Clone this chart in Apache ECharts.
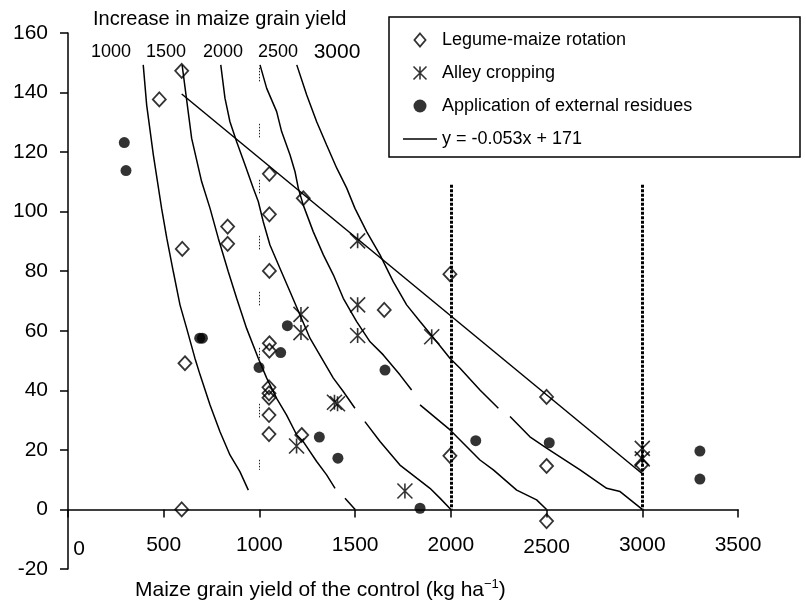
<!DOCTYPE html>
<html>
<head>
<meta charset="utf-8">
<script src="https://cdn.jsdelivr.net/npm/echarts@6/dist/echarts.min.js"></script>
<style>
html,body{margin:0;padding:0;background:#fff;}
#chart{width:806px;height:604px;}
</style>
</head>
<body>
<div id="chart"></div>
<script>
// ---- data ----
const legumeMaize = [
  [594,147.3],[477,137.7],[1052,112.7],[1229,104.5],[1052,99.1],[834,95],[834,89.2],[597,87.5],
  [1052,80.1],[1652,67],[1052,55.8],[1052,53.3],[611,49.1],[1050,41],[1050,39],[1050,37.5],
  [1050,31.7],[1050,25.3],[1221,25],[594,0],[1995,79],[1995,18],[2500,37.8],[2500,14.6],
  [2500,-3.9],[2997,15]
];
const alleyCropping = [
  [1513,90.2],[1513,68.7],[1513,58.4],[1217,65.5],[1217,59.4],[1900,58],[1392,36],[1408,35.5],
  [1194,21.3],[1760,6.2],[3000,20.5],[3000,17]
];
const externalResidues = [
  [294,123.2],[303,113.8],[688,57.5],[702,57.5],[1146,61.7],[1111,52.7],[998,47.7],[1656,46.8],
  [1313,24.3],[1410,17.2],[1839,0.4],[2130,23.1],[2514,22.4],[3301,19.6],[3301,10.2]
];
// iso-lines of increase in maize grain yield ('-' = gap in the drawn curve)
const iso1000 = [[393,149.3],[411,135.8],[446,119],[489,101.1],[516,91.1],[550,79.9],[585,68.7],[620,60.8],
  [663,50.8],[690,45.2],[742,35.1],[794,26.1],[846,18.3],[898,12.7],[942,6.5]];
const iso1500 = [[596,149.3],[646,124.6],[698,110.1],[742,101.1],[785,91.1],[837,79.9],[881,70.9],[933,60.8],
  [994,50.8],[1038,44.1],[1090,37.3],[1142,31.7],[1195,25],[1229,22.8],[1299,16.1],[1351,11.6],[1395,7.1],
  [1420,'-'],[1447,3.8],[1500,0]];
const iso2000 = [[798,149.3],[820,138.1],[846,130.2],[881,123.5],[925,115.7],[968,107.9],[994,103.4],[1020,96.6],
  [1055,88.8],[1107,81],[1160,73.1],[1212,65.3],[1264,57.5],[1325,50.8],[1386,44.1],[1438,39.6],[1499,34],
  [1525,'-'],[1551,29.5],[1630,22.8],[1734,14.9],[1822,10.5],[1891,7.1],[1943,3.8],[2000,0]];
const iso2500 = [[1003,149.3],[1038,141.4],[1090,133.6],[1116,126.9],[1160,119],[1186,113.4],[1203,107.9],[1229,102.2],
  [1281,93.3],[1334,85.5],[1386,78.8],[1438,70.9],[1508,63.1],[1578,56.3],[1647,51.9],[1734,45.2],[1795,40.1],
  [1815,'-'],[1839,35.1],[1996,26.7],[2152,16.6],[2222,13.3],[2344,6.5],[2448,3.2],[2500,0]];
const iso3000 = [[1195,149.3],[1247,139.2],[1299,130.2],[1351,122.4],[1404,114.6],[1456,107.9],[1499,101.1],[1560,93.3],
  [1630,85.5],[1699,76.5],[1769,68.7],[1839,63.1],[1926,56.3],[1995,50.8],[2048,47.4],[2152,40.1],[2248,34],
  [2280,'-'],[2309,31.2],[2413,24.4],[2500,20.6],[2675,13.3],[2814,7.1],[2884,6],[3000,0]];
const isoCurves = [iso1000, iso1500, iso2000, iso2500, iso3000];
const isoLabels = ['1000','1500','2000','2500','3000'];
// regression y = -0.053x + 171
const regSlope = -0.053, regIntercept = 171, regXRange = [594, 3000];
const regName = 'y = -0.053x + 171';
// vertical reference lines
const dottedRefX = [2000, 3000], dottedRefTop = 109;
const faintRefX = 1000, faintRefRange = [148.3, 13.3];
const xTicks = {min:0, max:3500, interval:500};
const yTicks = {min:-20, max:160, interval:20};

const FONT = '"Liberation Sans", Arial, Helvetica, sans-serif';
const asteriskPath = 'path://M0,0L20,20M20,0L0,20M10,0L10,20';
const diamondPath = 'path://M6,0L12,7L6,14L0,7Z';
const linePath = 'path://M0,0L34,0L34,1.6L0,1.6Z';

const regLine = regXRange.map(x => [x, regSlope * x + regIntercept]);

const series = [];
isoCurves.forEach((c, i) => series.push({
  type:'line', name:'iso' + isoLabels[i], data:c, symbol:'none', showSymbol:false, silent:true,
  connectNulls:false, lineStyle:{color:'#000', width:1.5}, z:2
}));
series.push({
  type:'line', name:regName, data:regLine, symbol:'none', showSymbol:false, silent:true,
  lineStyle:{color:'#000', width:1.5}, itemStyle:{color:'#000'}, z:2,
  markLine:{
    silent:true, symbol:'none', animation:false, label:{show:false},
    data: dottedRefX.map(x => [
      {coord:[x, dottedRefTop], lineStyle:{color:'#000', width:3, type:[3,1.5]}},
      {coord:[x, 0]}
    ]).concat([[
      {coord:[faintRefX, faintRefRange[0]], lineStyle:{color:'#222', width:1, type:[1.5,1.5,1.5,1.5,1.5,1.5,1.5,1.5,1.5,42.5]}},
      {coord:[faintRefX, faintRefRange[1]]}
    ]])
  }
});
series.push({
  type:'scatter', name:'Legume-maize rotation', data:legumeMaize, symbol:diamondPath, symbolSize:[13,14],
  itemStyle:{color:'rgba(0,0,0,0)', borderColor:'#000', borderWidth:1.8}, z:3
});
series.push({
  type:'scatter', name:'Alley cropping', data:alleyCropping, symbol:asteriskPath, symbolSize:[15,15],
  itemStyle:{color:'rgba(0,0,0,0)', borderColor:'#000', borderWidth:1.6}, z:3
});
series.push({
  type:'scatter', name:'Application of external residues', data:externalResidues, symbol:'circle', symbolSize:11,
  itemStyle:{color:'#000', borderWidth:0}, z:3
});

const isoLabelPos = [[111,52,18],[166,52,18],[223,52,18],[278,52,18],[337,52,21]];

const option = {
  backgroundColor:'#fff',
  animation:false,
  textStyle:{fontFamily:FONT},
  grid:{left:68, right:68, top:33, bottom:35, containLabel:false, outerBoundsMode:'none'},
  xAxis:{
    type:'value', min:xTicks.min, max:xTicks.max, interval:xTicks.interval,
    axisLine:{show:true, onZero:true, lineStyle:{color:'#000', width:1.5}},
    axisTick:{show:true, inside:false, length:8, lineStyle:{color:'#000', width:1.5}},
    splitLine:{show:false},
    axisLabel:{
      margin:-34, fontSize:21, color:'#000', fontFamily:FONT,
      formatter: v => v === 0 ? '{z|0}' : (v === 2500 ? '{d|2500}' : String(v)),
      rich:{
        z:{padding:[4,0,0,22], fontSize:21, color:'#000', fontFamily:FONT},
        d:{padding:[2,0,0,0], fontSize:21, color:'#000', fontFamily:FONT}
      }
    }
  },
  yAxis:{
    type:'value', min:yTicks.min, max:yTicks.max, interval:yTicks.interval,
    axisLine:{show:true, onZero:false, lineStyle:{color:'#000', width:1.5}},
    axisTick:{show:true, inside:false, length:8, lineStyle:{color:'#000', width:1.5}},
    splitLine:{show:false},
    axisLabel:{margin:20, fontSize:21, color:'#000', fontFamily:FONT}
  },
  legend:{
    orient:'vertical', left:403, top:30, padding:0, itemGap:13, itemWidth:34, itemHeight:13,
    textStyle:{fontSize:18, lineHeight:20, color:'#000', fontFamily:FONT},
    selectedMode:false, symbolKeepAspect:true,
    data:[
      {name:'Legume-maize rotation', icon:diamondPath, itemStyle:{color:'rgba(0,0,0,0)', borderColor:'#000', borderWidth:1.8}},
      {name:'Alley cropping', icon:asteriskPath, itemStyle:{color:'rgba(0,0,0,0)', borderColor:'#000', borderWidth:1.6}},
      {name:'Application of external residues', icon:'circle', itemStyle:{color:'#000'}},
      {name:regName, icon:linePath, itemStyle:{color:'#000', borderWidth:0}}
    ]
  },
  graphic:[
    {type:'rect', silent:true, z:1, shape:{x:389, y:17, width:411, height:140},
     style:{fill:'#fff', stroke:'#000', lineWidth:1.5}},
    {type:'text', silent:true, style:{text:'Increase in maize grain yield', x:93, y:19, verticalAlign:'middle',
      fontSize:20, fontFamily:FONT, fill:'#000'}}
  ].concat(isoLabels.map((t, i) => ({
    type:'text', silent:true, style:{text:t, x:isoLabelPos[i][0], y:isoLabelPos[i][1], align:'center',
      verticalAlign:'middle', fontSize:isoLabelPos[i][2], fontFamily:FONT, fill:'#000'}
  }))).concat([
    {type:'text', silent:true, style:{
      text:'{m|Maize grain yield of the control (kg ha}{s|\u22121}{m|)}', x:135, y:590, verticalAlign:'middle',
      rich:{
        m:{fontSize:21, lineHeight:24, fontFamily:FONT, fill:'#000', color:'#000'},
        s:{fontSize:13, lineHeight:13, verticalAlign:'top', fontFamily:FONT, fill:'#000', color:'#000'}
      }
    }}
  ]),
  series: series
};
const chart = echarts.init(document.getElementById('chart'), null, {renderer:'canvas'});
chart.setOption(option);
</script>
</body>
</html>
